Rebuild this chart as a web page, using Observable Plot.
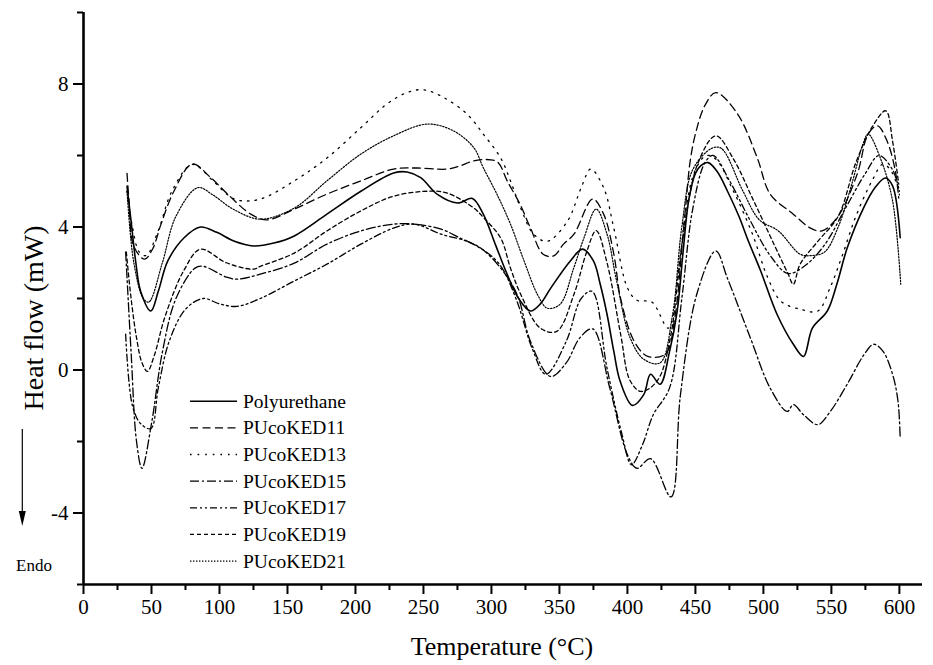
<!DOCTYPE html>
<html><head><meta charset="utf-8">
<script src="https://cdn.jsdelivr.net/npm/d3@7"></script>
<script src="https://cdn.jsdelivr.net/npm/@observablehq/plot@0.6"></script>
<style>
body{margin:0;background:#fff}
#chart{position:relative;width:933px;height:665px}
</style>
</head><body><div id="chart"></div>
<script>
// ---- data (temperature °C, heat flow mW) ----
const seriesNames = ["Polyurethane","PUcoKED11","PUcoKED13","PUcoKED15","PUcoKED17","PUcoKED19","PUcoKED21"];

const polyT = [32,35,38.5,42,49.5,55,62,74,86,98,111,125,140,155,179,204,228,238,248,260,275,286,294,303,311.5,320,328.7,336,343.6,358,367,375,380,385,390,394.6,403.7,412,417,424,431,436.6,441,445,450,454,459.4,466,473.6,482,489,498,510,522,529.5,536,547,554,561.6,573.6,582,589.8,595,600.6];
const polyV = [5.14,4.16,3.0,2.2,1.65,2.2,3.05,3.7,4.0,3.85,3.6,3.47,3.55,3.75,4.36,5.0,5.51,5.54,5.38,4.92,4.67,4.8,4.36,3.5,2.68,2.0,1.65,1.85,2.29,3.05,3.38,3.05,2.4,1.56,0.52,-0.31,-0.99,-0.69,-0.12,-0.4,0.52,1.65,3.33,4.73,5.5,5.72,5.8,5.55,5.0,4.3,3.6,2.77,1.56,0.72,0.38,1.17,1.65,2.4,3.41,4.53,5.1,5.37,5.15,3.7];

const ked11T = [32,33.5,37,45,51,57,66.5,80,93.6,106,123,135,155,179,204,228,245.5,267.5,277,287,299.5,305,311.6,321,328.7,338,345.7,353,360.7,374.5,382.5,390,395,405,415,428,435,440,443,446,450,457,465,481,495.5,505,522,534.6,543,554,569,577,583.9,591,597,599.5];
const ked11V = [5.5,4.73,3.46,3.1,3.4,4.08,5.0,5.76,5.38,4.92,4.36,4.2,4.5,4.92,5.29,5.62,5.65,5.62,5.71,5.85,5.88,5.8,5.29,4.64,3.97,3.24,3.19,3.52,3.8,4.78,4.36,3.24,2.0,0.8,0.38,0.45,1.5,3.4,4.64,5.8,6.6,7.4,7.76,7.16,5.93,4.92,4.36,3.97,3.89,4.25,5.48,6.6,6.83,6.4,5.57,4.81];

const ked13T = [32,36,41,46,55,65,80,95,106,113.5,130,155,179,204,223.5,238,250,265,282,294,306.8,314,321.5,331,341,356,366,373,382.5,390,400,407,418,430,437,443,450,458,465,478,492,503,513,527,540,549,558,568,580,588,595,600];
const ked13V = [5.0,4.0,3.3,3.2,3.9,5.0,5.75,5.3,4.9,4.75,4.78,5.29,5.93,6.78,7.45,7.76,7.84,7.62,7.16,6.6,5.93,5.29,4.53,3.8,3.6,4.17,5.1,5.62,5.1,3.97,2.3,1.95,1.9,1.17,2.5,4.5,5.6,6.0,5.9,5.0,3.8,2.6,1.92,1.7,1.65,2.3,3.2,4.3,5.3,5.76,5.5,4.9];

const ked15T = [31,35,39,43,50,58,68,82,88,105,113,130,155,179,204,228,243,263,277,292,306.8,319,328.7,343.5,355,365,374.5,387,400,407,417,432,439,451,465,473.5,490.5,505,517.5,522,529.5,540,549,561.6,574,581,588,595,599,600.6];
const ked15V = [3.3,0.5,-2.0,-2.75,-1.5,0.5,2.0,2.85,2.9,2.6,2.54,2.68,2.99,3.52,3.89,4.08,4.08,3.94,3.69,3.41,2.85,2.1,0.8,-0.18,0.2,0.9,1.15,-0.5,-2.37,-2.75,-2.48,-3.55,-0.69,2.12,3.33,2.57,0.89,-0.51,-1.16,-0.97,-1.25,-1.53,-1.17,-0.4,0.43,0.72,0.52,-0.12,-0.88,-1.92];

const ked17T = [31,36,42,49.5,55,63,75,88,100,113,130,155,179,204,228,243,263,285,305,318,330,340,355,366,374,385,396,403,411,419,431,440,448,457,463,475,490,505,518,530,545,560,575,585,595,600];
const ked17V = [1.0,-1.0,-1.5,-1.64,-0.5,0.8,1.7,2.0,1.85,1.78,2.0,2.49,2.96,3.52,3.97,4.08,3.8,3.55,3.0,2.0,0.6,-0.12,0.8,2.0,2.2,0.05,-1.8,-2.65,-2.1,-1.25,-0.5,2.0,4.5,5.8,6.0,5.3,4.2,3.2,2.7,2.9,3.5,4.5,5.5,6.0,5.6,5.0];

const ked19T = [31.5,35,39,43,47,52,60,74,86,105,125,130,155,179,204,228,253,267.5,287,294.5,306.8,314,321.5,336,348,360.7,370,377,385,395,402,410,422,432,440,452,465,478,492,508,518,522,527,540,555,568,580,590,595,599.5];
const ked19V = [3.3,2.0,0.9,0.2,-0.04,0.4,1.5,2.8,3.38,3.0,2.82,2.9,3.27,3.89,4.45,4.86,5.0,4.95,4.53,4.25,3.69,2.85,2.12,1.17,1.08,2.12,3.3,3.9,3.0,1.0,-0.3,-0.6,-0.3,1.0,3.5,5.8,6.55,5.9,4.8,3.5,2.7,2.4,2.96,3.6,4.3,5.8,6.8,7.25,6.4,5.2];

const ked21T = [32,37,44,48,58,68,84,95,110,130,155,179,204,228,253,272,287,294,304,314,324,334,341,350.5,360.5,368,377,385,392,402,412,424,433,440,448,462,469,485,497,511,527,535,545,555,565,573,577,586,595,601];
const ked21V = [5.0,3.0,2.0,1.9,3.0,4.3,5.1,4.9,4.5,4.22,4.53,5.29,6.04,6.55,6.88,6.69,6.22,5.66,4.92,4.08,3.05,2.1,1.73,1.84,2.85,3.69,4.5,3.8,2.5,0.9,0.3,0.2,1.5,4.0,5.6,6.2,6.2,5.0,4.2,3.89,3.24,3.2,3.3,4.0,5.2,6.3,6.6,5.93,4.73,2.4];

const xMajorTicks = [0,50,100,150,200,250,300,350,400,450,500,550,600];
const xMinorTicks = [25,75,125,175,225,275,325,375,425,475,525,575];
const yMajorTicks = [-4,0,4,8];
const yMinorTicks = [-6,-2,2,6,10];

// ---- styles ----
const seriesDash = [null,"8,4.5","1.6,6","9,3,2,3","7,3,2,3,2,3","4,3","1.4,1.6"];
const seriesWidth = [1.6,1.3,1.3,1.3,1.3,1.3,1.2];

const seriesT = [polyT,ked11T,ked13T,ked15T,ked17T,ked19T,ked21T];
const seriesV = [polyV,ked11V,ked13V,ked15V,ked17V,ked19V,ked21V];

const lineMarks = seriesNames.map((name,k) => {
  const rows = seriesT[k].map((t,i) => ({series:name, T:t, V:seriesV[k][i]}));
  return Plot.line(rows, {x:"T", y:"V", stroke:"black", strokeWidth:seriesWidth[k],
    strokeDasharray:seriesDash[k] || undefined, curve:"catmull-rom"});
});

const font = "'Liberation Serif','Times New Roman',serif";

const svg = Plot.plot({
  width:933, height:665,
  marginLeft:83, marginRight:11, marginTop:12, marginBottom:81,
  x:{domain:[0,617]},
  y:{domain:[-6,10]},
  style:{fontFamily:font, fontSize:"21px", color:"black", background:"white", overflow:"visible"},
  marks:[
    ...lineMarks,
    Plot.axisX({ticks:xMajorTicks, tickSize:10, tickPadding:5, tickFormat:d=>String(d), fontSize:21, strokeWidth:2, label:null}),
    Plot.axisX({ticks:xMinorTicks, tickSize:6, tickFormat:()=>"", strokeWidth:2, label:null}),
    Plot.axisY({ticks:yMajorTicks, tickSize:10, tickPadding:5, tickFormat:d=>String(d), fontSize:21, strokeWidth:2, label:null}),
    Plot.axisY({ticks:yMinorTicks, tickSize:6, tickFormat:()=>"", strokeWidth:2, label:null}),
    Plot.ruleX([0], {strokeWidth:2.6}),
    Plot.ruleY([-6], {strokeWidth:2.6})
  ]
});

const s = d3.select(svg);
s.selectAll('g[aria-label="x-axis tick label"], g[aria-label="y-axis tick label"]')
  .attr("font-size", 21).attr("font-family", font);
// axis titles
s.append("text").attr("x",502).attr("y",655).attr("text-anchor","middle")
  .attr("font-family",font).attr("font-size",26).attr("fill","black").text("Temperature (°C)");
s.append("text").attr("transform","translate(43,318) rotate(-90)").attr("text-anchor","middle")
  .attr("font-family",font).attr("font-size",28).attr("fill","black").text("Heat flow (mW)");

// legend
const lg = s.append("g");
seriesNames.forEach((name,k) => {
  const yb = 407.7 + k*26.65;
  lg.append("line").attr("x1",190).attr("x2",237).attr("y1",yb-6.5).attr("y2",yb-6.5)
    .attr("stroke","black").attr("stroke-width",seriesWidth[k])
    .attr("stroke-dasharray",seriesDash[k]);
  lg.append("text").attr("x",243).attr("y",yb).attr("text-anchor","start").attr("font-family",font)
    .attr("font-size",19.5).attr("fill","black").text(name);
});

// Endo arrow
s.append("line").attr("x1",22.3).attr("x2",22.3).attr("y1",429).attr("y2",515)
  .attr("stroke","black").attr("stroke-width",1.2);
s.append("path").attr("d","M18.8,511 L25.8,511 L22.3,526 Z").attr("fill","black");
s.append("text").attr("x",16).attr("y",570.5).attr("text-anchor","start").attr("font-family",font)
  .attr("font-size",17).attr("fill","black").text("Endo");

document.getElementById("chart").appendChild(svg);
</script>
</body></html>
